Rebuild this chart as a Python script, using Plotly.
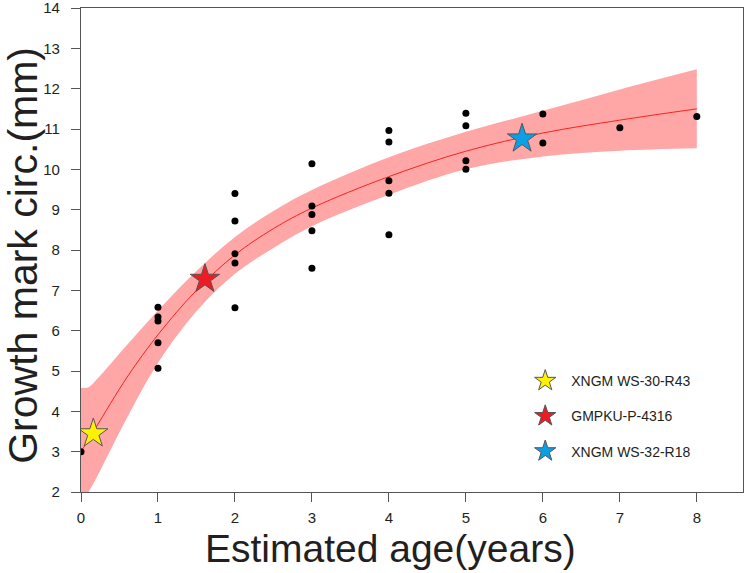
import plotly.graph_objects as go

# ---- data ----
obs_age = [0,
           1, 1, 1, 1, 1,
           2, 2, 2, 2, 2,
           3, 3, 3, 3, 3,
           4, 4, 4, 4, 4,
           5, 5, 5, 5,
           6, 6,
           7,
           8]
obs_circ = [3.0,
            6.58, 6.34, 6.24, 5.70, 5.07,
            9.40, 8.72, 7.91, 7.68, 6.57,
            10.14, 9.09, 8.88, 8.48, 7.55,
            10.96, 10.68, 9.72, 9.41, 8.38,
            11.39, 11.08, 10.21, 10.00,
            11.37, 10.65,
            11.03,
            11.31]

fit_age = [0, 0.1, 0.2, 0.6, 1.0, 1.5, 2.0, 2.5, 3.0, 4.0, 5.0, 6.0, 7.0, 8.0]
fit_line = [3.0, 3.31, 3.62, 4.85, 5.90, 7.00, 7.88, 8.53, 9.04, 9.82, 10.45, 10.90, 11.22, 11.50]
fit_upper = [4.58, 4.60, 4.78, 5.65, 6.50, 7.48, 8.32, 8.97, 9.49, 10.30, 10.93, 11.45, 11.98, 12.48]
fit_lower = [1.60, 2.00, 2.35, 3.85, 5.20, 6.48, 7.41, 8.05, 8.59, 9.37, 10.00, 10.32, 10.46, 10.52]

spec_names = ["XNGM WS-30-R43", "GMPKU-P-4316", "XNGM WS-32-R18"]
spec_age = [0.16, 1.61, 5.73]
spec_circ = [3.45, 7.28, 10.76]
spec_colors = ["#FFF200", "#ED1C24", "#0AA0E6"]

x_ticks = [0, 1, 2, 3, 4, 5, 6, 7, 8]
y_ticks = [2, 3, 4, 5, 6, 7, 8, 9, 10, 11, 12, 13, 14]

FONT = "Liberation Sans, Arial, sans-serif"
TXT = "#231F20"
AX = "#555555"

fig = go.Figure()

fig.add_trace(go.Scatter(x=fit_age, y=fit_lower, mode="lines",
                         line=dict(width=0, shape="spline", smoothing=1.0),
                         showlegend=False, hoverinfo="skip"))
fig.add_trace(go.Scatter(x=fit_age, y=fit_upper, mode="lines",
                         line=dict(width=0, shape="spline", smoothing=1.0),
                         fill="tonexty", fillcolor="#FFA6A6",
                         showlegend=False, hoverinfo="skip"))
fig.add_trace(go.Scatter(x=fit_age, y=fit_line, mode="lines",
                         line=dict(width=1, color="#FF2020", shape="spline", smoothing=1.0),
                         showlegend=False))
fig.add_trace(go.Scatter(x=obs_age, y=obs_circ, mode="markers",
                         marker=dict(size=7, color="black"),
                         showlegend=False))

for i, (n, a, c, col) in enumerate(zip(spec_names, spec_age, spec_circ, spec_colors)):
    fig.add_trace(go.Scatter(x=[a], y=[c], mode="markers", name=n,
                             legendgroup=f"g{i}",
                             marker=dict(symbol="star", size=22, color=col,
                                         line=dict(color="#555555", width=1))))

fig.update_layout(
    width=747, height=573,
    margin=dict(l=81, r=4, t=8, b=81),
    plot_bgcolor="white", paper_bgcolor="white",
    font=dict(family=FONT, color=TXT),
    xaxis=dict(range=[0, 8.6], tickvals=x_ticks, ticks="outside", ticklen=9,
               tickwidth=1.3, tickcolor=AX, showline=True, linecolor=AX,
               linewidth=1.3, mirror=True, showgrid=False, zeroline=False,
               tickfont=dict(size=15, family=FONT, color=TXT),
               ticklabelstandoff=3, ticklabeloverflow="allow", automargin=False),
    yaxis=dict(range=[2, 14], tickvals=y_ticks, ticks="outside", ticklen=9,
               tickwidth=1.3, tickcolor=AX, showline=True, linecolor=AX,
               linewidth=1.3, mirror=True, showgrid=False, zeroline=False,
               tickfont=dict(size=15, family=FONT, color=TXT),
               ticklabelstandoff=8, ticklabeloverflow="allow", automargin=False),
    legend=dict(x=0.662, y=0.262, xanchor="left", yanchor="top",
                font=dict(size=14, family=FONT, color=TXT),
                bgcolor="rgba(0,0,0,0)", itemwidth=42,
                traceorder="grouped", tracegroupgap=14),
    annotations=[
        dict(text="Estimated age(years)", xref="paper", yref="paper",
             x=0.467, y=-0.1168, xanchor="center", yanchor="middle",
             showarrow=False, font=dict(size=39, family=FONT, color=TXT)),
        dict(text="Growth mark circ.(mm)", xref="paper", yref="paper",
             x=-0.0876, y=0.488, xanchor="center", yanchor="middle",
             textangle=-90, showarrow=False,
             font=dict(size=41, family=FONT, color=TXT)),
    ],
)

fig.write_html("out.html")
